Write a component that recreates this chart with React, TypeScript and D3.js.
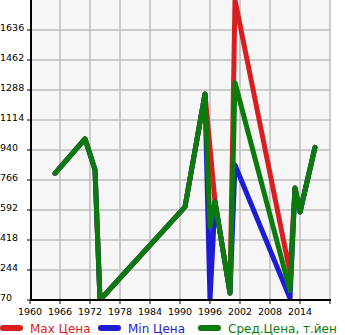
import React from 'react';
import * as d3 from 'd3';

const years = [1965, 1971, 1973, 1974, 1991, 1995, 1996, 1997, 2000, 2001, 2012, 2013, 2014, 2017];
const maxPrice = [805, 1005, 825, 70, 610, 1265, null, 640, 110, 1810, 230, 720, 580, 955];
const minPrice = [805, 1005, 825, 70, 610, 1265, 70, 640, 110, 853, 80, 720, 580, 955];
const avgPrice = [805, 1005, 825, 70, 610, 1265, 495, 640, 110, 1330, 125, 720, 580, 955];

const yTicks = [70, 244, 418, 592, 766, 940, 1114, 1288, 1462, 1636];
const xTicks = [1960, 1966, 1972, 1978, 1984, 1990, 1996, 2002, 2008, 2014];
const gridYears = [1966, 1972, 1978, 1984, 1990, 1996, 2002, 2008, 2014, 2020];

const legend = [
  { label: 'Max Цена', color: '#d81e1e', x: 0 },
  { label: 'Min Цена', color: '#1c1cd6', x: 98 },
  { label: 'Сред.Цена, т.йен', color: '#0b7b0b', x: 198 },
];

const App = () => {
  const left = 31, right = 330, top = 0, bottom = 300;
  const font = '"DejaVu Sans", Verdana, sans-serif';

  const x = d3.scaleLinear().domain([1960, 2020]).range([30, 330]);
  const y = d3.scaleLinear().domain([70, 1810]).range([bottom, top]);

  const line = d3.line<[number, number]>().x(d => x(d[0])).y(d => y(d[1]));
  const pts = (vals: (number | null)[]) =>
    years.map((yr, i) => [yr, vals[i]] as [number, number | null])
      .filter(d => d[1] != null) as [number, number][];

  const series = [
    { vals: maxPrice, color: legend[0].color },
    { vals: minPrice, color: legend[1].color },
    { vals: avgPrice, color: legend[2].color },
  ];

  return (
    <svg width={345} height={335} style={{ position: 'absolute', left: 0, top: 0, background: '#fff' }}>
      <defs>
        <clipPath id="plot">
          <rect x={left} y={top} width={right - left} height={bottom - top} />
        </clipPath>
      </defs>
      <rect x={left} y={top} width={right - left} height={bottom - top} fill="#f6f6f6" />
      {yTicks.map(t => (
        <line key={t} x1={left} x2={right} y1={y(t)} y2={y(t)} stroke="#bdbdbd" strokeWidth={1.5} />
      ))}
      {gridYears.map(t => (
        <line key={t} x1={x(t)} x2={x(t)} y1={top} y2={bottom} stroke="#bdbdbd" strokeWidth={1.5} />
      ))}
      <g clipPath="url(#plot)">
        {series.map((s, i) => (
          <path key={i} d={line(pts(s.vals)) || ''} fill="none" stroke={s.color}
            strokeWidth={5} strokeLinejoin="round" strokeLinecap="round" />
        ))}
      </g>
      <line x1={31} x2={31} y1={0} y2={301} stroke="#000" strokeWidth={2} />
      <line x1={30} x2={331} y1={300} y2={300} stroke="#000" strokeWidth={2} />
      {yTicks.map(t => (
        <g key={t}>
          <line x1={27} x2={30} y1={y(t)} y2={y(t)} stroke="#000" strokeWidth={1} />
          <text x={0} y={y(t) + 0.5} fontSize={9.5} fontFamily={font} fill="#000">{t}</text>
        </g>
      ))}
      {xTicks.concat([2020]).map(t => (
        <line key={t} x1={x(t)} x2={x(t)} y1={300} y2={304} stroke="#000" strokeWidth={1} />
      ))}
      {xTicks.map(t => (
        <text key={t} x={x(t)} y={315} fontSize={9.5} fontFamily={font} textAnchor="middle" fill="#000">{t}</text>
      ))}
      {legend.map(l => (
        <g key={l.label}>
          <line x1={l.x + 3} x2={l.x + 20} y1={328} y2={328} stroke={l.color} strokeWidth={6} strokeLinecap="round" />
          <text x={l.x + 30} y={332.5} fontSize={12} fontFamily={font} fill={l.color}>{l.label}</text>
        </g>
      ))}
    </svg>
  );
};

export default App;
